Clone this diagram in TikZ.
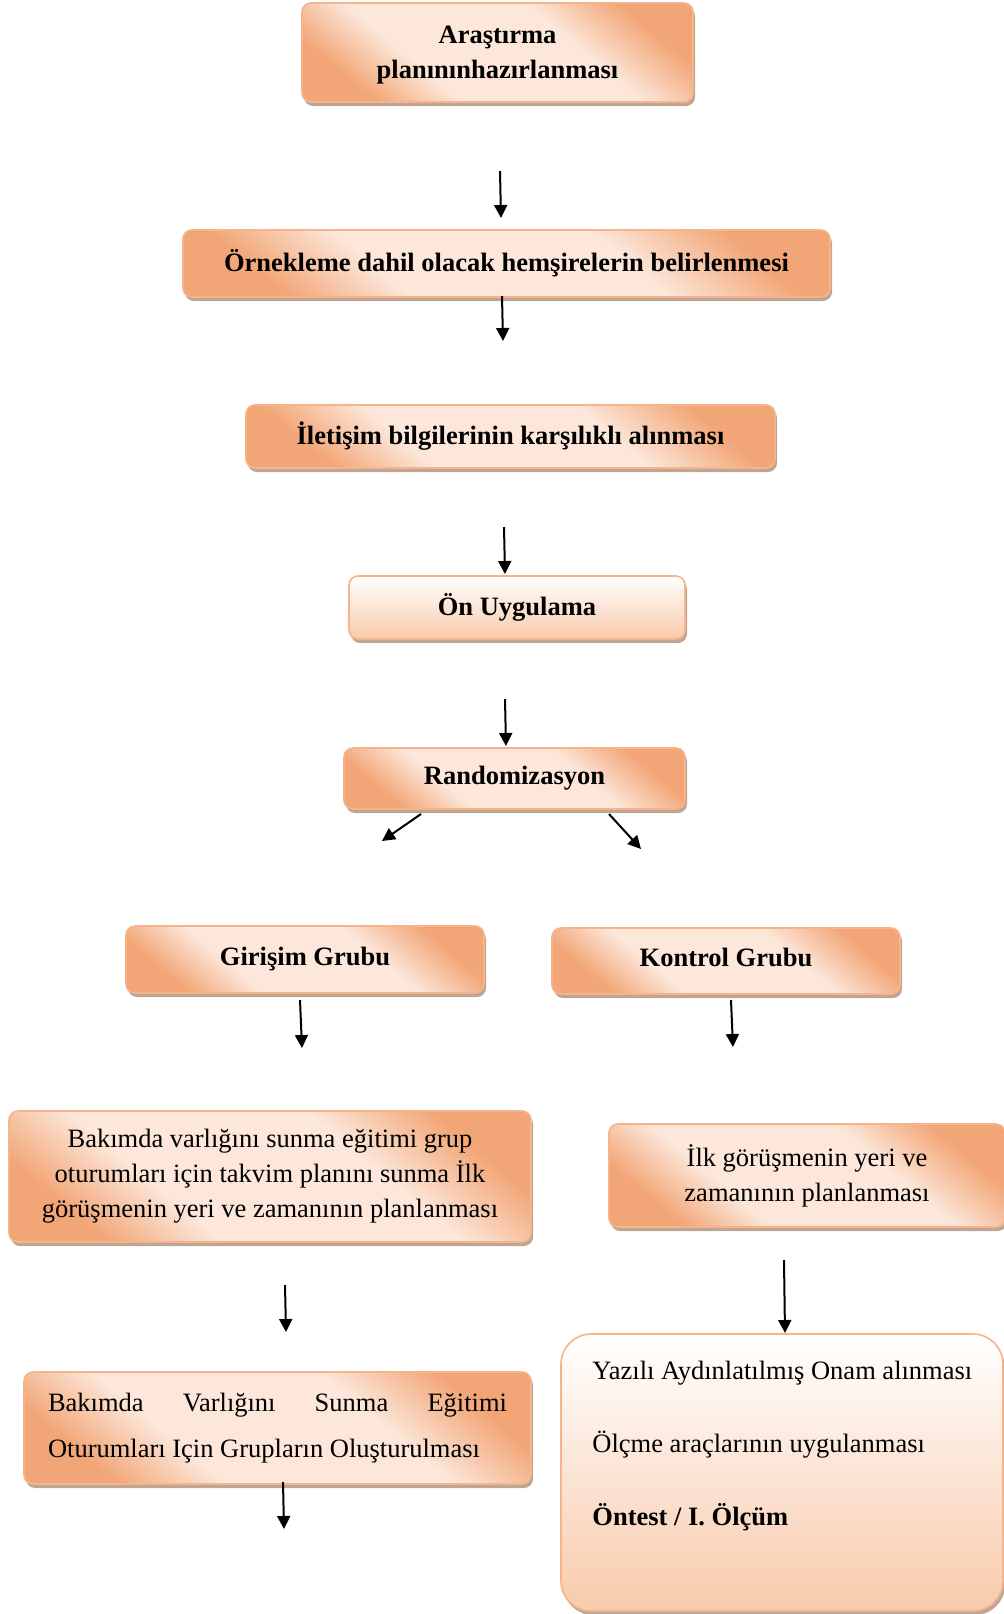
\documentclass[tikz,border=0pt]{standalone}
\usepackage{fontspec}
\setmainfont{Liberation Serif}
\usetikzlibrary{shadows,arrows.meta}
\definecolor{pe}{HTML}{F2A677}
\definecolor{lt}{HTML}{FCE7DA}
\definecolor{bd}{HTML}{F5B48A}
\definecolor{sh}{HTML}{BFA595}
\definecolor{pw}{HTML}{F8CAAB}
\pgfdeclareverticalshading{peachband}{100bp}{color(0bp)=(pe); color(25bp)=(pe); color(37bp)=(lt); color(62bp)=(lt); color(75bp)=(pe); color(100bp)=(pe)}
\begin{document}
\begin{tikzpicture}[x=0.5pt,y=-0.5pt,
  txt/.style={font=\fontsize{13.25}{17.5}\selectfont},
  bftxt/.style={font=\fontsize{13.25}{17.5}\selectfont\bfseries},
  shad/.style={drop shadow={fill=sh, opacity=1, shadow xshift=1pt, shadow yshift=-2pt}},
  pbox/.style={draw=bd, line width=0.8pt, rounded corners=4.5pt, shade, shading=peachband,
    shading angle=-40, shad, align=center, inner sep=0pt, txt},
  wbox/.style={draw=bd, line width=0.8pt, rounded corners=4.5pt, shade, shading=axis,
    top color=white, bottom color=pw, shading angle=0, shad,
    align=center, inner sep=0pt, txt},
  arr/.style={line width=1pt, -{Triangle[length=6.5pt,width=6.5pt]}}
]
\useasboundingbox (0,0) rectangle (1004,1614);

\node[pbox, bftxt, minimum width=195.5pt, minimum height=49.5pt, text depth=-1.5pt] (b1) at (497.5,52.5)
  {Araştırma\\planınınhazırlanması};
\node[pbox, bftxt, minimum width=323.5pt, minimum height=33.5pt] (b2) at (506.5,263.5)
  {Örnekleme dahil olacak hemşirelerin belirlenmesi};
\node[pbox, bftxt, minimum width=264.5pt, minimum height=31.5pt] (b3) at (510.5,436.5)
  {İletişim bilgilerinin karşılıklı alınması};
\node[wbox, bftxt, minimum width=168pt, minimum height=31.5pt] (b4) at (517,607.5)
  {Ön Uygulama};
\node[pbox, bftxt, minimum width=170.5pt, minimum height=30.5pt] (b5) at (514.5,778.5)
  {Randomizasyon};
\node[pbox, bftxt, minimum width=179pt, minimum height=33.5pt] (gir) at (305,959.5)
  {Girişim Grubu};
\node[pbox, bftxt, minimum width=174pt, minimum height=33pt, text depth=4pt] (kon) at (726,961)
  {Kontrol Grubu};
\node[pbox, minimum width=261pt, minimum height=65.5pt] (bak1) at (270,1176.5)
  {Bakımda varlığını sunma eğitimi grup\\oturumları için takvim planını sunma İlk\\görüşmenin yeri ve zamanının planlanması};
\node[pbox, minimum width=198pt, minimum height=51.5pt] (ilk) at (807,1175.5)
  {İlk görüşmenin yeri ve\\zamanının planlanması};
\node[pbox, minimum width=253.5pt, minimum height=56pt, align=left] (bak2) at (277.5,1428)
  {\parbox{229.5pt}{\fontsize{13.25}{23}\selectfont Bakımda\hfill Varlığını\hfill Sunma\hfill Eğitimi\\Oturumları Için Grupların Oluşturulması}};
\node[wbox, rounded corners=15pt, minimum width=221pt, minimum height=138.5pt] (yaz) at (782,1472.5) {};
\node[txt, anchor=base west, inner sep=0pt] (y1) at (592,1379) {Yazılı Aydınlatılmış Onam alınması};
\node[txt, anchor=base west, inner sep=0pt] (y2) at (592,1452) {Ölçme araçlarının uygulanması};
\node[bftxt, anchor=base west, inner sep=0pt] (y3) at (592,1525) {Öntest / I. Ölçüm};

\coordinate (a1s) at (500,171); \coordinate (a1e) at (501,218);
\coordinate (a2s) at (502,296); \coordinate (a2e) at (503,341);
\coordinate (a3s) at (504,527); \coordinate (a3e) at (505,574);
\coordinate (a4s) at (505,699); \coordinate (a4e) at (506,746);
\coordinate (a5s) at (421,814); \coordinate (a5e) at (382,841);
\coordinate (a6s) at (609,814); \coordinate (a6e) at (641,849);
\coordinate (a7s) at (300,1000); \coordinate (a7e) at (302,1048);
\coordinate (a8s) at (731,1000); \coordinate (a8e) at (733,1047);
\coordinate (a9s) at (285,1285); \coordinate (a9e) at (286,1332);
\coordinate (a10s) at (784,1260); \coordinate (a10e) at (785,1333);
\coordinate (a11s) at (283,1482); \coordinate (a11e) at (284,1529);
\foreach \a in {a1,a2,a3,a4,a5,a6,a7,a8,a9,a10,a11}
  \draw[arr] (\a s) -- (\a e);
\end{tikzpicture}
\end{document}
